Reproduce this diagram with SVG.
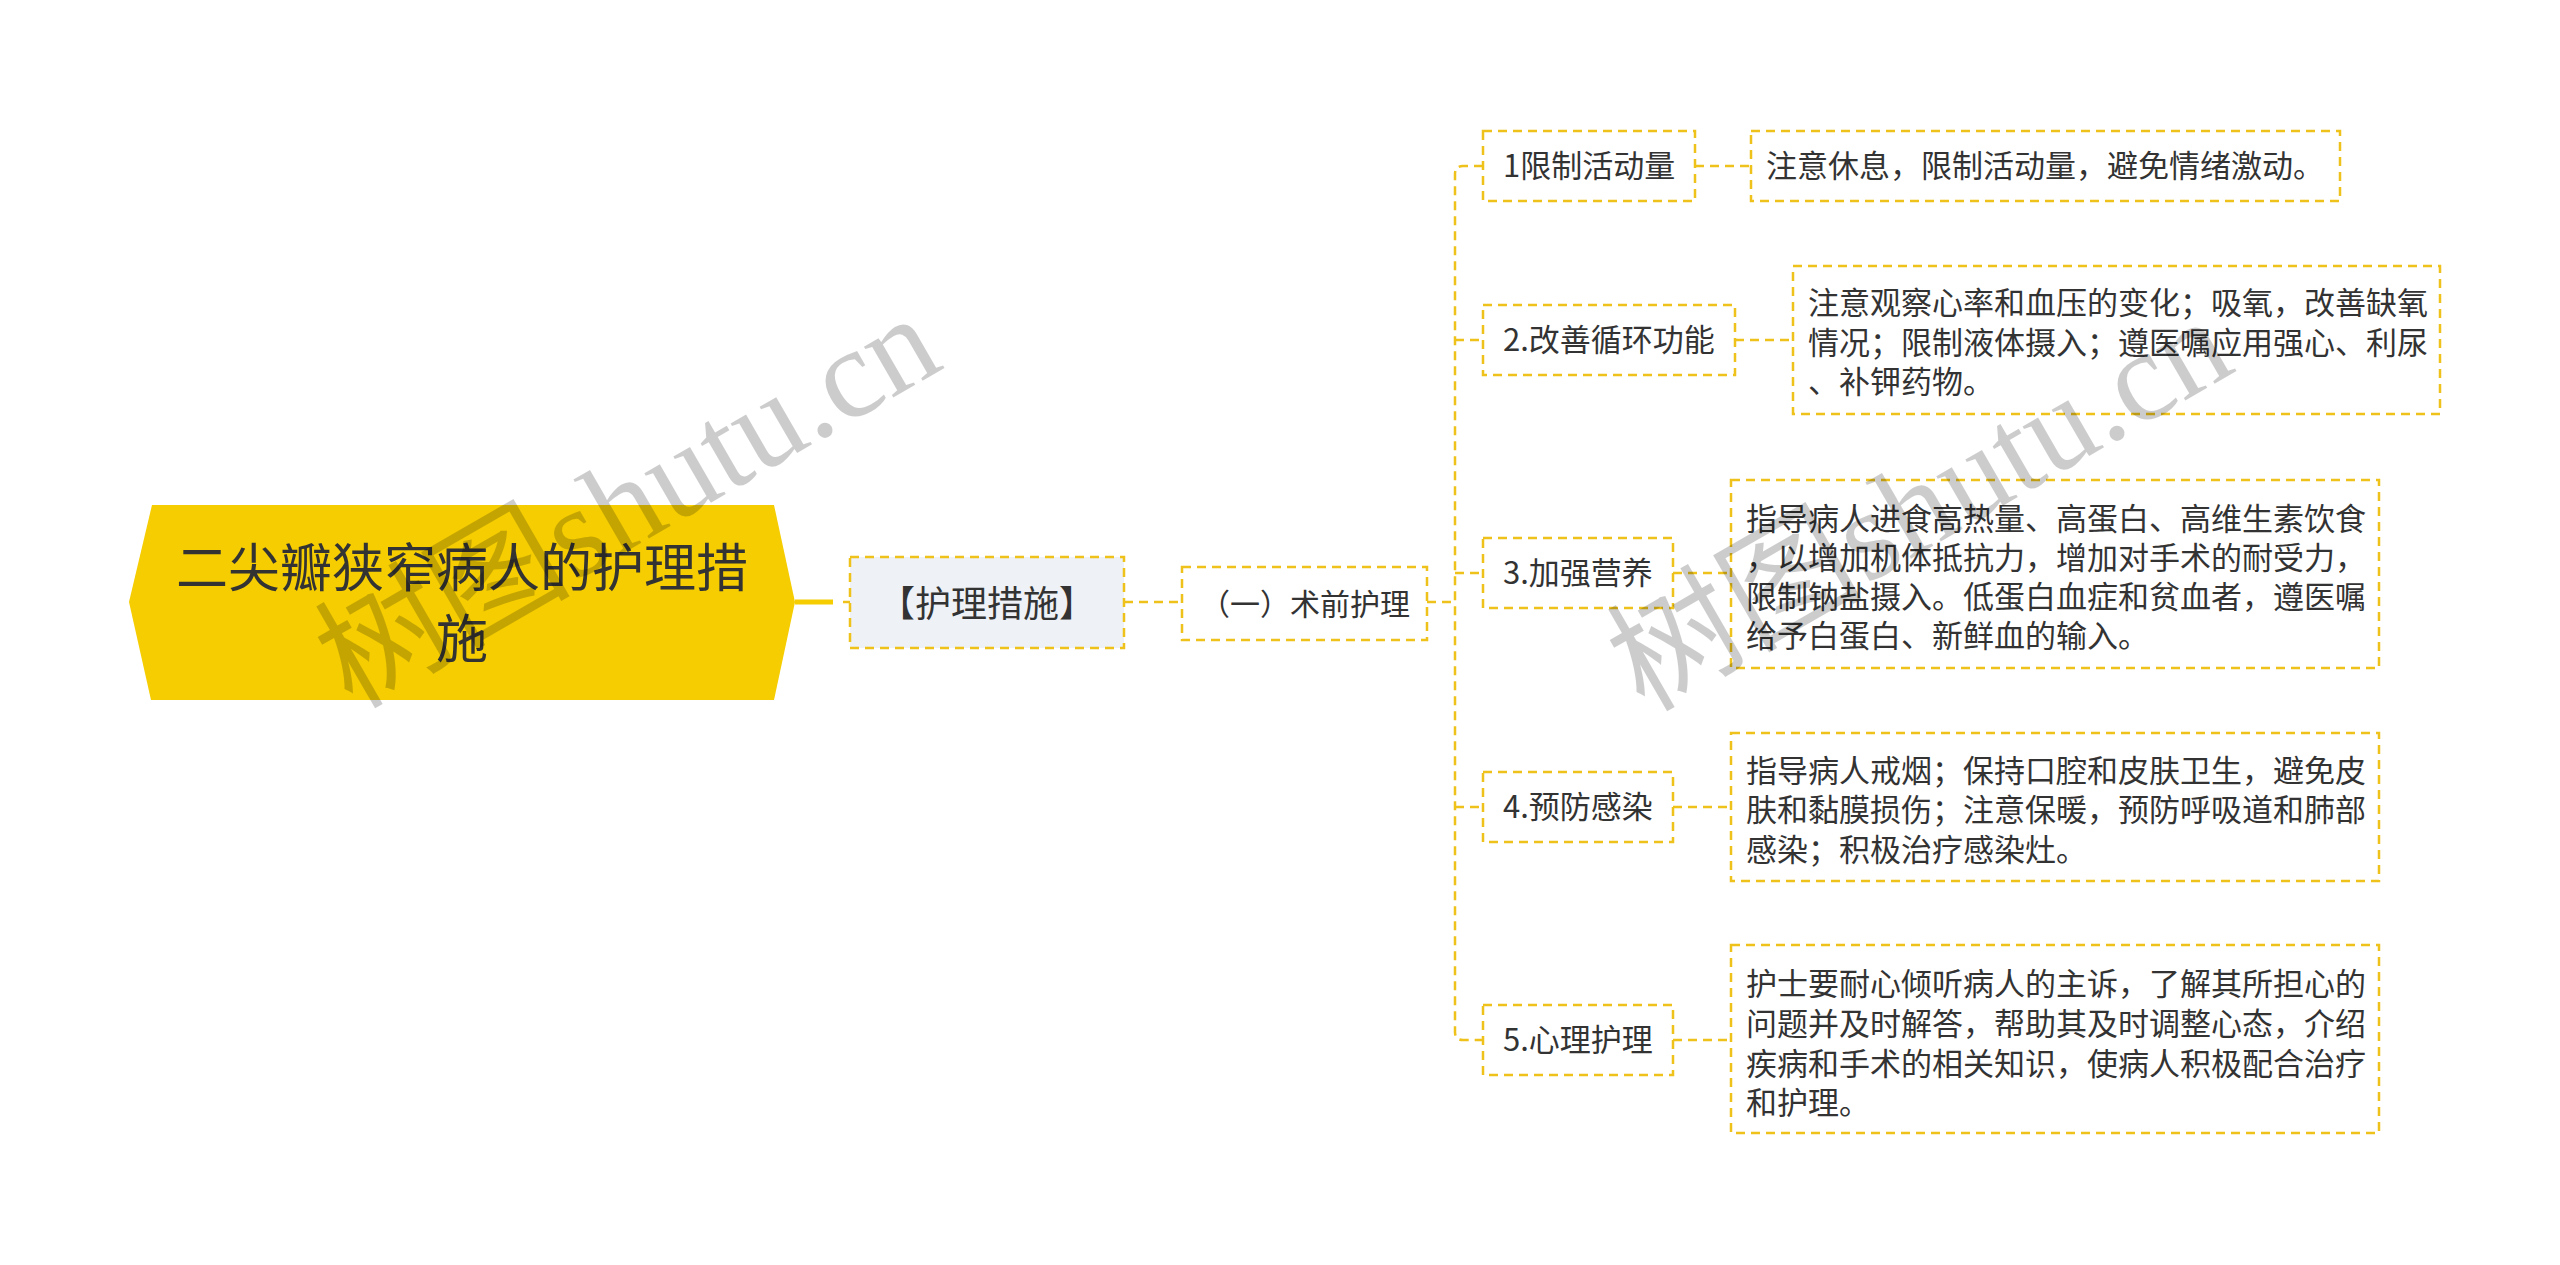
<svg xmlns="http://www.w3.org/2000/svg" width="2560" height="1265" viewBox="0 0 2560 1265">
<style>
.box{fill:#ffffff;stroke:#EEC21A;stroke-width:2.5;stroke-dasharray:9 6;}
.conn{fill:none;stroke:#EEC21A;stroke-width:2.5;stroke-dasharray:9 6;}
.t{font-family:"Noto Sans CJK SC","Noto Sans",sans-serif;fill:#333333;}
.l2{font-size:31px;}
.d{font-size:31px;}
.wm{font-family:"Liberation Serif","Noto Sans CJK SC",serif;font-size:128px;fill:#000000;fill-opacity:0.2;}
</style>
<rect x="0" y="0" width="2560" height="1265" fill="#ffffff"/>

<g id="connectors">
  <line x1="795" y1="602" x2="833" y2="602" stroke="#F5CD00" stroke-width="5"/>
  <line x1="843" y1="602" x2="850" y2="602" stroke="#EEC21A" stroke-width="2.5"/>
  <line class="conn" x1="1124" y1="602" x2="1182" y2="602"/>
  <line class="conn" x1="1427" y1="602" x2="1455" y2="602"/>
  <path class="conn" d="M1483,166 H1463 Q1455,166 1455,174 V1032 Q1455,1040 1463,1040 H1483"/>
  <line class="conn" x1="1455" y1="340" x2="1483" y2="340"/>
  <line class="conn" x1="1455" y1="573" x2="1483" y2="573"/>
  <line class="conn" x1="1455" y1="807" x2="1483" y2="807"/>
  <line class="conn" x1="1695" y1="166" x2="1751" y2="166"/>
  <line class="conn" x1="1735" y1="340" x2="1793" y2="340"/>
  <line class="conn" x1="1673" y1="573" x2="1731" y2="573"/>
  <line class="conn" x1="1673" y1="807" x2="1731" y2="807"/>
  <line class="conn" x1="1673" y1="1040" x2="1731" y2="1040"/>
</g>

<g id="root">
  <polygon points="152,505 774,505 795,602 774,700 151,700 129,602" fill="#F5CD00"/>
  <text class="t" x="462" y="587" font-size="52" text-anchor="middle">二尖瓣狭窄病人的护理措</text>
  <text class="t" x="462" y="658" font-size="52" text-anchor="middle">施</text>
</g>

<g id="node-huli">
  <rect x="850" y="557" width="274" height="91" class="box" style="fill:#EEF1F5"/>
  <text class="t" x="987" y="617" font-size="36" text-anchor="middle">【护理措施】</text>
</g>

<g id="node-shuqian">
  <rect x="1182" y="567" width="245" height="73" class="box"/>
  <text class="t" x="1305" y="615" font-size="30" text-anchor="middle">（一）术前护理</text>
</g>

<g id="n1">
  <rect x="1483" y="131" width="212" height="70" class="box"/>
  <text class="t l2" x="1503" y="177">1限制活动量</text>
</g>
<g id="n2">
  <rect x="1483" y="305" width="252" height="70" class="box"/>
  <text class="t l2" x="1503" y="351">2.改善循环功能</text>
</g>
<g id="n3">
  <rect x="1483" y="538" width="190" height="70" class="box"/>
  <text class="t l2" x="1503" y="584">3.加强营养</text>
</g>
<g id="n4">
  <rect x="1483" y="772" width="190" height="70" class="box"/>
  <text class="t l2" x="1503" y="818">4.预防感染</text>
</g>
<g id="n5">
  <rect x="1483" y="1005" width="190" height="70" class="box"/>
  <text class="t l2" x="1503" y="1051">5.心理护理</text>
</g>

<g id="d1">
  <rect x="1751" y="131" width="589" height="70" class="box"/>
  <text class="t d" x="1766" y="177">注意休息，限制活动量，避免情绪激动。</text>
</g>
<g id="d2">
  <rect x="1793" y="266" width="647" height="148" class="box"/>
  <text class="t d" x="1808" y="314">注意观察心率和血压的变化；吸氧，改善缺氧</text>
  <text class="t d" x="1808" y="353.5">情况；限制液体摄入；遵医嘱应用强心、利尿</text>
  <text class="t d" x="1808" y="393">、补钾药物。</text>
</g>
<g id="d3">
  <rect x="1731" y="480" width="648" height="188" class="box"/>
  <text class="t d" x="1746" y="530">指导病人进食高热量、高蛋白、高维生素饮食</text>
  <text class="t d" x="1746" y="569">，以增加机体抵抗力，增加对手术的耐受力，</text>
  <text class="t d" x="1746" y="608">限制钠盐摄入。低蛋白血症和贫血者，遵医嘱</text>
  <text class="t d" x="1746" y="647">给予白蛋白、新鲜血的输入。</text>
</g>
<g id="d4">
  <rect x="1731" y="733" width="648" height="148" class="box"/>
  <text class="t d" x="1746" y="782">指导病人戒烟；保持口腔和皮肤卫生，避免皮</text>
  <text class="t d" x="1746" y="821">肤和黏膜损伤；注意保暖，预防呼吸道和肺部</text>
  <text class="t d" x="1746" y="860.5">感染；积极治疗感染灶。</text>
</g>
<g id="d5">
  <rect x="1731" y="945" width="648" height="188" class="box"/>
  <text class="t d" x="1746" y="995">护士要耐心倾听病人的主诉，了解其所担心的</text>
  <text class="t d" x="1746" y="1035">问题并及时解答，帮助其及时调整心态，介绍</text>
  <text class="t d" x="1746" y="1074.5">疾病和手术的相关知识，使病人积极配合治疗</text>
  <text class="t d" x="1746" y="1114">和护理。</text>
</g>

<g id="watermark">
  <text class="wm" x="352" y="710" transform="rotate(-30 352 710)">树图shutu.cn</text>
  <text class="wm" x="1644" y="713" transform="rotate(-30 1644 713)">树图shutu.cn</text>
</g>
</svg>
